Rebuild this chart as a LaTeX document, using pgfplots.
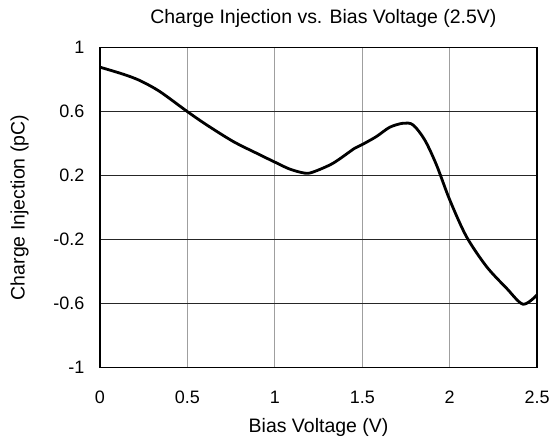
\documentclass[border=0pt]{standalone}
\usepackage{fontspec}
\setmainfont{Liberation Sans}
\usepackage{pgfplots}
\pgfplotsset{compat=1.18}
\begin{document}
\begin{tikzpicture}
\begin{axis}[
  scale only axis,
  width=437.7bp, height=320bp,
  xmin=0, xmax=2.5, ymin=-1, ymax=1,
  xtick={0,0.5,...,2.5},
  xticklabels={0,0.5,1,1.5,2,2.5},
  ytick={-1,-0.6,-0.2,0.2,0.6,1},
  yticklabels={-1,-0.6,-0.2,0.2,0.6,1},
  major tick length=0pt,
  xticklabel style={yshift=-20bp},
  yticklabel style={xshift=-12bp},
  axis line style={black, line width=1.6bp},
  x grid style={gray!75, line width=1bp},
  y grid style={black!85, line width=0.9bp},
  xmajorgrids, ymajorgrids,
  font=\fontsize{19.5bp}{23bp}\selectfont,
  ticklabel style={font=\fontsize{18bp}{21bp}\selectfont},
  title={Charge Injection vs. Bias Voltage (2.5V)},
  title style={at={(0.511,1)}, anchor=south, yshift=11bp, font=\fontsize{19.5bp}{23bp}\selectfont},
  xlabel={Bias Voltage (V)},
  ylabel={Charge Injection (pC)},
  xlabel style={yshift=-8bp},
  ylabel style={yshift=18bp},
  clip=true,
]
\addplot[black, line width=2.8bp, smooth, tension=0.5] coordinates {
(0,0.878) (0.133,0.834) (0.229,0.794) (0.343,0.725) (0.5,0.6) (0.61,0.517)
(0.762,0.413) (0.895,0.34) (1.0,0.284) (1.086,0.24) (1.171,0.215) (1.219,0.222)
(1.333,0.277) (1.457,0.371) (1.5,0.394) (1.581,0.444) (1.657,0.502) (1.733,0.527)
(1.79,0.517) (1.857,0.423) (1.924,0.267) (2.0,0.048) (2.095,-0.181) (2.21,-0.369)
(2.324,-0.504) (2.419,-0.605) (2.5,-0.546)
};
\end{axis}
\path (current axis.south west) ++(-100bp,-73.3bp) coordinate (bl);
\path (current axis.north east) ++(15.3bp,47.7bp) coordinate (tr);
\path (bl) rectangle (tr);
\end{tikzpicture}
\end{document}
